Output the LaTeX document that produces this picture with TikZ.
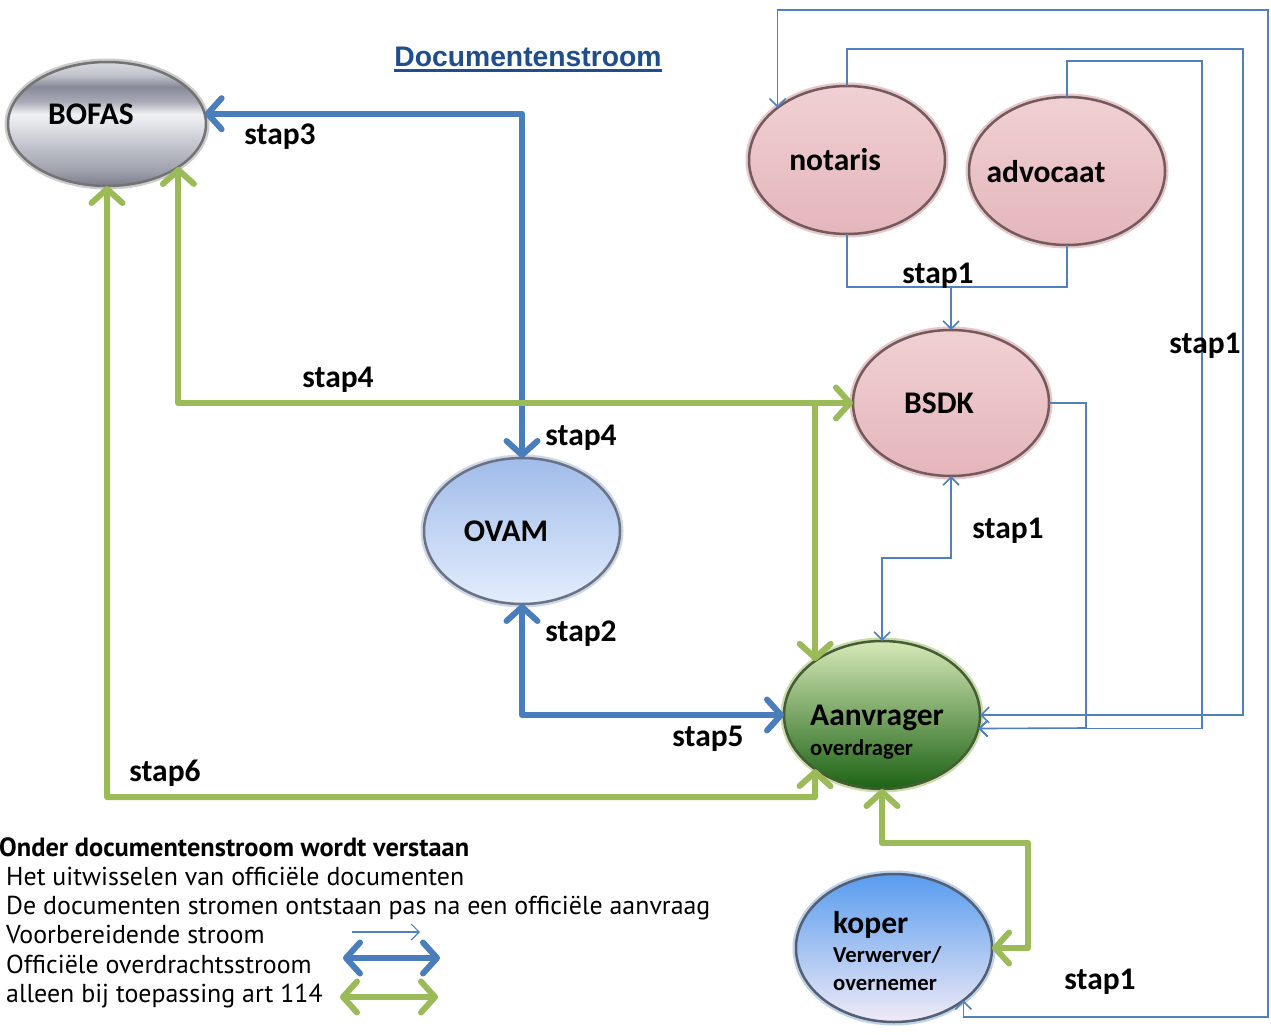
\documentclass[tikz,border=0pt]{standalone}
\usepackage{fontspec}
\setmainfont{Carlito}
\newfontfamily\titlefont{Liberation Sans}
\newfontfamily\legfont{PT Sans}
\usetikzlibrary{shapes.geometric,arrows.meta,calc}

\definecolor{blueT}{HTML}{4A7EBB}
\definecolor{blueL}{HTML}{4F81BD}
\definecolor{greenT}{HTML}{9BBB59}
\definecolor{titleC}{HTML}{1F4E8C}
\definecolor{metA}{HTML}{7A7D8A}
\definecolor{metB}{HTML}{9EA0AC}
\definecolor{metC}{HTML}{BDBFC8}
\definecolor{metD}{HTML}{E4E5EA}
\definecolor{metE}{HTML}{F0F1F4}
\definecolor{metF}{HTML}{A9ABB7}
\definecolor{metG}{HTML}{868998}
\definecolor{metH}{HTML}{C4C6CE}
\definecolor{metI}{HTML}{D6D8DE}
\pgfdeclareverticalshading{metal}{100bp}{color(0bp)=(metA); color(25bp)=(metA); color(31bp)=(metB); color(40bp)=(metC); color(50bp)=(metD); color(54bp)=(metE); color(59bp)=(metF); color(65bp)=(metG); color(70bp)=(metH); color(75bp)=(metI); color(100bp)=(metI)}

\tikzset{
  ell/.style={ellipse, inner sep=0pt, outer sep=0pt, line width=2.5pt},
  metalnode/.style={ell, shading=metal, draw=black!55, preaction={draw=black!20, line width=7pt}},
  pinknode/.style={ell, top color={rgb,255:red,240;green,208;blue,211}, bottom color={rgb,255:red,228;green,182;blue,187}, draw={rgb,255:red,115;green,90;blue,92}, preaction={draw={rgb,255:red,232;green,198;blue,201}, line width=7pt}},
  ovamnode/.style={ell, top color={rgb,255:red,160;green,188;blue,234}, bottom color={rgb,255:red,228;green,237;blue,252}, draw={rgb,255:red,105;green,115;blue,132}, preaction={draw={rgb,255:red,205;green,215;blue,232}, line width=7pt}},
  greennode/.style={ell, top color={rgb,255:red,214;green,233;blue,183}, middle color={rgb,255:red,130;green,178;blue,88}, bottom color={rgb,255:red,28;green,98;blue,20}, draw={rgb,255:red,70;green,92;blue,55}, preaction={draw={rgb,255:red,200;green,222;blue,170}, line width=7pt}},
  kopernode/.style={ell, top color={rgb,255:red,88;green,156;blue,238}, middle color={rgb,255:red,160;green,204;blue,248}, bottom color={rgb,255:red,240;green,234;blue,246}, draw={rgb,255:red,85;green,95;blue,115}, preaction={draw={rgb,255:red,190;green,210;blue,235}, line width=7pt}},
  lbl/.style={inner sep=0pt, font=\bfseries\fontsize{31.5}{36}\selectfont},
  sublbl/.style={inner sep=0pt, font=\bfseries\fontsize{22.7}{26}\selectfont},
  leg/.style={inner sep=0pt, anchor=base west, font=\legfont\fontsize{25.9}{28}\selectfont},
  thickblue/.style={draw=blueT, line width=6pt, line join=round},
  thickgreen/.style={draw=greenT, line width=6pt, line join=round},
  thinblue/.style={draw=blueL, line width=1.6pt},
  tipthick/.tip={Straight Barb[length=14pt, width=31pt, round]},
  tipthin/.tip={Straight Barb[length=8pt, width=16pt]},
}

\begin{document}
\begin{tikzpicture}[x=1pt,y=-1pt]
\useasboundingbox (0,0) rectangle (1271,1035);
\fill[white] (0,0) rectangle (1271,1035);

% nodes
\node[metalnode, minimum width=198pt, minimum height=124pt] (bofas) at (107,124) {};
\node[pinknode, minimum width=196pt, minimum height=148pt] (not) at (847,160) {};
\node[pinknode, minimum width=196pt, minimum height=148pt] (adv) at (1067,171) {};
\node[pinknode, minimum width=196pt, minimum height=146pt] (bsdk) at (951,403) {};
\node[ovamnode, minimum width=196pt, minimum height=146pt] (ovam) at (522,531) {};
\node[greennode, minimum width=196pt, minimum height=148pt] (aanv) at (882,715) {};
\node[kopernode, minimum width=196pt, minimum height=148pt] (koper) at (894,948) {};

% node texts
\node[lbl] (bofasT) at (91,114) {BOFAS};
\node[lbl] (notT) at (835,160) {notaris};
\node[lbl] (advT) at (1046,172) {advocaat};
\node[lbl] (bsdkT) at (939,403) {BSDK};
\node[lbl] (ovamT) at (506,531) {OVAM};
\node[lbl, anchor=base west] (aanvT) at (810,725) {Aanvrager};
\node[sublbl, anchor=base west] (aanvS) at (810,755) {overdrager};
\node[lbl, anchor=base west] (koperT) at (833,933) {koper};
\node[sublbl, anchor=base west] (koperS1) at (833,962) {Verwerver/};
\node[sublbl, anchor=base west] (koperS2) at (833,990) {overnemer};

% title
\node[inner sep=0pt, font=\titlefont\bfseries\fontsize{28.3}{32}\selectfont, text=titleC] (title) at (528,57) {Documentenstroom};
\draw[titleC, line width=2.2pt] ([yshift=-3.5pt]title.south west) -- ([yshift=-3.5pt]title.south east);

% coordinates
\coordinate (g6) at (815,797);
\coordinate (g7) at (1028,843);
\coordinate (j1) at (951,287);
\coordinate (j2) at (882,558);
\coordinate (j3) at (1086,728);
\coordinate (j4) at (1202,61);
\coordinate (j5) at (1243,49);
\coordinate (j6) at (1268,1017);
\coordinate (j7) at (1268,10);

% thick blue connectors
\draw[thickblue, tipthick-tipthick] (bofas.6) -| (ovam.north);
\draw[thickblue, tipthick-tipthick] (ovam.south) |- (aanv.west);

% thick green connectors
\draw[thickgreen, tipthick-tipthick] (bofas.-31) |- (bsdk.west);
\draw[thickgreen, -tipthick] (aanv.141 |- bsdk.west) -- (aanv.141);
\draw[thickgreen, tipthick-tipthick] (bofas.south) |- (g6) -- (aanv.-141);
\draw[thickgreen, tipthick-tipthick] (aanv.south) |- (g7) |- (koper.east);

% thin blue connectors
\draw[thinblue] (not.south) |- (j1) -| (adv.south);
\draw[thinblue, -tipthin] (j1) -- (bsdk.north);
\draw[thinblue, tipthin-tipthin] (bsdk.south) |- (j2) -- (aanv.north);
\draw[thinblue, -tipthin] (bsdk.east) -| (j3) -- (aanv.-8);
\draw[thinblue, -tipthin] (adv.north) |- (j4) |- (aanv.-8);
\draw[thinblue, -tipthin] (not.north) |- (j5) |- (aanv.east);
\draw[thinblue, tipthin-tipthin] (koper.-37) |- (j6) -- (j7) -| (not.143);

% step labels
\node[lbl] (s3) at (280,137) {stap3};
\node[lbl] (s4a) at (338,380) {stap4};
\node[lbl] (s4b) at (581,438) {stap4};
\node[lbl] (s2) at (581,634) {stap2};
\node[lbl] (s5) at (708,739) {stap5};
\node[lbl] (s6) at (165,773) {stap6};
\node[lbl] (s1a) at (938,276) {stap1};
\node[lbl] (s1b) at (1008,531) {stap1};
\node[lbl] (s1c) at (1205,346) {stap1};
\node[lbl] (s1d) at (1100,982) {stap1};

% legend
\node[leg, font=\legfont\bfseries\fontsize{26.4}{28}\selectfont] (l0) at (-1,856) {Onder documentenstroom wordt verstaan};
\node[leg] (l1) at (6,885) {Het uitwisselen van officiële documenten};
\node[leg] (l2) at (6,914) {De documenten stromen ontstaan pas na een officiële aanvraag};
\node[leg] (l3) at (6,943) {Voorbereidende stroom};
\node[leg] (l4) at (6,973) {Officiële overdrachtsstroom};
\node[leg] (l5) at (6,1002) {alleen bij toepassing art 114};

\coordinate (a1) at (352,932);
\coordinate (a2) at (420,932);
\coordinate (b1) at (343,958);
\coordinate (b2) at (440,958);
\coordinate (c1) at (340,997);
\coordinate (c2) at (438,997);
\draw[thinblue, line width=1.2pt, -tipthin] (a1) -- (a2);
\draw[thickblue, tipthick-tipthick] (b1) -- (b2);
\draw[thickgreen, tipthick-tipthick] (c1) -- (c2);
\end{tikzpicture}
\end{document}
